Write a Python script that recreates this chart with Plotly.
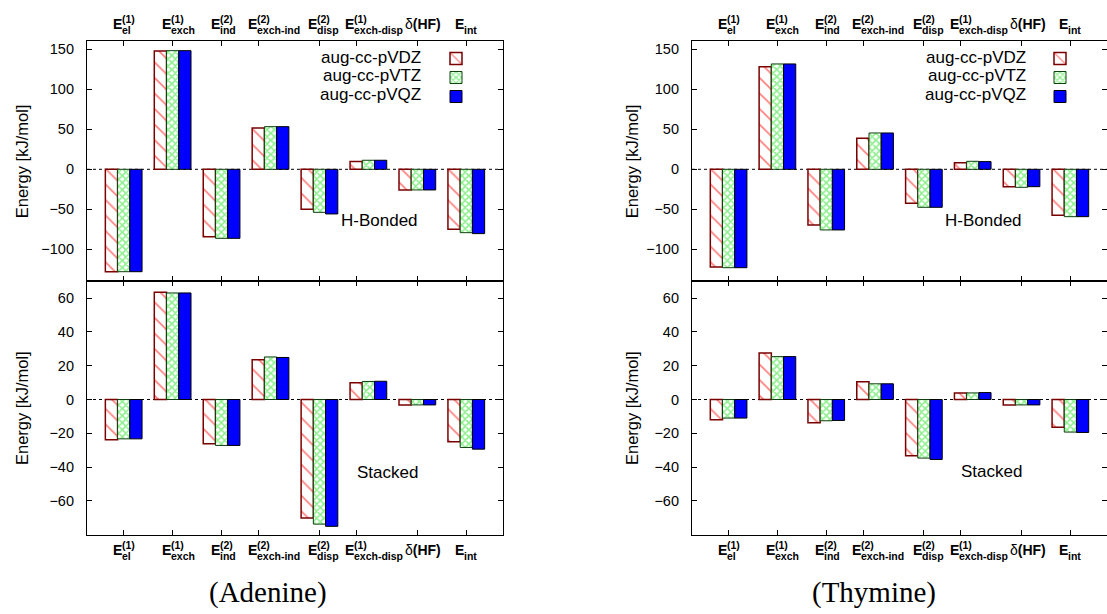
import plotly.graph_objects as go

# ---------------- data ----------------
categories = ["E_el(1)", "E_exch(1)", "E_ind(2)", "E_exch-ind(2)", "E_disp(2)",
              "E_exch-disp(1)", "delta(HF)", "E_int"]
label_main = ["E", "E", "E", "E", "E", "E", "δ(HF)", "E"]
label_sup = ["(1)", "(1)", "(2)", "(2)", "(2)", "(1)", "", ""]
label_sub = ["el", "exch", "ind", "exch-ind", "disp", "exch-disp", "", "int"]
bases = ["aug-cc-pVDZ", "aug-cc-pVTZ", "aug-cc-pVQZ"]

adenine_hb_vdz = [-128.0, 147.9, -84.2, 51.7, -50.0, 9.6, -25.8, -75.0]
adenine_hb_vtz = [-128.0, 148.3, -86.3, 53.3, -53.8, 11.3, -25.8, -79.2]
adenine_hb_vqz = [-128.0, 148.3, -86.3, 53.3, -55.8, 11.3, -25.8, -80.4]

adenine_st_vdz = [-23.9, 63.5, -26.2, 23.5, -70.2, 9.9, -3.2, -25.0]
adenine_st_vtz = [-23.3, 63.1, -27.2, 25.2, -73.8, 10.7, -3.2, -28.4]
adenine_st_vqz = [-23.3, 63.1, -27.2, 24.9, -75.1, 10.8, -3.2, -29.4]

thymine_hb_vdz = [-122.0, 128.3, -69.6, 38.8, -42.5, 8.3, -21.7, -57.5]
thymine_hb_vtz = [-123.0, 131.7, -75.8, 45.4, -47.5, 10.0, -22.5, -59.2]
thymine_hb_vqz = [-123.0, 131.7, -75.8, 45.4, -47.5, 9.6, -21.7, -59.2]

thymine_st_vdz = [-12.0, 27.6, -13.8, 10.5, -33.3, 3.9, -3.2, -16.4]
thymine_st_vtz = [-11.0, 25.4, -12.6, 9.3, -34.7, 3.9, -3.2, -19.3]
thymine_st_vqz = [-11.0, 25.4, -12.4, 9.3, -35.5, 4.1, -3.2, -19.5]

top_yticks = [-100, -50, 0, 50, 100, 150]
bottom_yticks = [-60, -40, -20, 0, 20, 40, 60]

# ---------------- layout helpers ----------------
W, H = 1107, 614
FONT = "Liberation Sans, Arial, Helvetica, sans-serif"
positions = list(range(len(categories)))
tick_offsets = [0, 0, 0, -0.245, 0, -0.245, 0, 0]
tickvals = [p + o for p, o in zip(positions, tick_offsets)]


def px_x(v):
    return v / W


def px_y(v):
    return 1 - v / H


styles = [
    dict(color="white",
         pattern=dict(shape="\\", fgcolor="#ff0000", bgcolor="white", size=11, solidity=0.15),
         line=dict(color="#7a0000", width=1.5)),
    dict(color="white",
         pattern=dict(shape="x", fgcolor="#1ee01e", bgcolor="white", size=5, solidity=0.55),
         line=dict(color="#104010", width=1)),
    dict(color="#0000ff",
         line=dict(color="#000000", width=1)),
]

panels = [
    # (xaxis id, yaxis id, series, legend, top?)
    ("x", "y", [adenine_hb_vdz, adenine_hb_vtz, adenine_hb_vqz], "legend", True),
    ("x2", "y2", [adenine_st_vdz, adenine_st_vtz, adenine_st_vqz], "legend", False),
    ("x3", "y3", [thymine_hb_vdz, thymine_hb_vtz, thymine_hb_vqz], "legend2", True),
    ("x4", "y4", [thymine_st_vdz, thymine_st_vtz, thymine_st_vqz], "legend2", False),
]

fig = go.Figure()
for xa, ya, series, lg, is_top in panels:
    for name, vals, st in zip(bases, series, styles):
        fig.add_trace(go.Bar(
            x=positions, y=vals, name=" ", hovertext=name, xaxis=xa, yaxis=ya,
            marker=st, legend=lg, showlegend=is_top, legendgroup=lg + name,
        ))

xdom_left = [px_x(87), px_x(503)]
xdom_right = [px_x(692), 1.0]
ydom_top = [px_y(281.3), px_y(41.3)]
ydom_bot = [px_y(534.6), px_y(281.3)]

axis_common = dict(showline=True, linecolor="black", linewidth=1.2, mirror="ticks",
                   ticks="inside", ticklen=5, tickcolor="black", tickwidth=1,
                   showgrid=False, zeroline=False, automargin=False)

xcommon = dict(axis_common, range=[-0.75, 7.75], tickvals=tickvals, showticklabels=False)
ycommon = dict(axis_common, tickfont=dict(size=14.5, color="black", family=FONT),
               ticklabelstandoff=9)

legend_common = dict(yanchor="top", xanchor="left", font=dict(size=9, family=FONT),
                     bgcolor="rgba(0,0,0,0)", tracegroupgap=0, itemwidth=30,
                     borderwidth=0)

layout = dict(
    width=W, height=H, margin=dict(l=0, r=0, t=0, b=0),
    paper_bgcolor="white", plot_bgcolor="white",
    font=dict(family=FONT, color="black"),
    barmode="group", bargap=0.25, bargroupgap=0,
    xaxis=dict(xcommon, domain=xdom_left, anchor="y"),
    yaxis=dict(ycommon, domain=ydom_top, anchor="x", range=[-140, 160], tickvals=top_yticks),
    xaxis2=dict(xcommon, domain=xdom_left, anchor="y2"),
    yaxis2=dict(ycommon, domain=ydom_bot, anchor="x2", range=[-80, 70], tickvals=bottom_yticks),
    xaxis3=dict(xcommon, domain=xdom_right, anchor="y3"),
    yaxis3=dict(ycommon, domain=ydom_top, anchor="x3", range=[-140, 160], tickvals=top_yticks),
    xaxis4=dict(xcommon, domain=xdom_right, anchor="y4"),
    yaxis4=dict(ycommon, domain=ydom_bot, anchor="x4", range=[-80, 70], tickvals=bottom_yticks),
    legend=dict(legend_common, x=px_x(436), y=px_y(44)),
    legend2=dict(legend_common, x=px_x(1040), y=px_y(44)),
)
fig.update_layout(**layout)

shapes = []
annotations = []
for xa, ya, series, lg, is_top in panels:
    shapes.append(dict(type="line", xref=xa + " domain", x0=0, x1=1, yref=ya, y0=0, y1=0,
                       line=dict(color="black", width=1, dash="dot"), layer="below"))
    e_y, sup_y, sub_y = (24, 19, 29.5) if is_top else (550, 545, 555.5)
    for tv, m, sp, sb in zip(tickvals, label_main, label_sup, label_sub):
        if m != "E":
            annotations.append(dict(x=tv, xref=xa, y=px_y(e_y), yref="paper",
                                    text="δ<b>(HF)</b>", showarrow=False,
                                    xanchor="center", yanchor="middle", xshift=6,
                                    font=dict(size=14, family=FONT)))
            continue
        annotations.append(dict(x=tv, xref=xa, y=px_y(e_y), yref="paper",
                                text="<b>E</b>", showarrow=False, xanchor="left",
                                yanchor="middle", xshift=-12, borderpad=0,
                                font=dict(size=14, family=FONT)))
        if sp:
            annotations.append(dict(x=tv, xref=xa, y=px_y(sup_y), yref="paper",
                                    text="<b>" + sp + "</b>", showarrow=False, xanchor="left",
                                    yanchor="middle", xshift=-3, borderpad=0,
                                    font=dict(size=10.5, family=FONT)))
        if sb:
            annotations.append(dict(x=tv, xref=xa, y=px_y(sub_y), yref="paper",
                                    text="<b>" + sb + "</b>", showarrow=False, xanchor="left",
                                    yanchor="middle", xshift=-3, borderpad=0,
                                    font=dict(size=10.5, family=FONT)))

# legend texts (right-aligned, left of the swatches)
for x_right in (423, 1028):
    for name, yc in zip(bases, (57, 75.5, 94)):
        annotations.append(dict(x=px_x(x_right), y=px_y(yc), xref="paper", yref="paper",
                                text=name, showarrow=False, xanchor="right",
                                yanchor="middle", font=dict(size=17, family=FONT)))

# panel labels
annotations += [
    dict(x=5.23, xref="x", y=-64.6, yref="y", text="H-Bonded", showarrow=False,
         font=dict(size=17, family=FONT)),
    dict(x=5.39, xref="x2", y=-43.2, yref="y2", text="Stacked", showarrow=False,
         font=dict(size=17, family=FONT)),
    dict(x=5.23, xref="x3", y=-64.6, yref="y3", text="H-Bonded", showarrow=False,
         font=dict(size=17, family=FONT)),
    dict(x=5.38, xref="x4", y=-42.6, yref="y4", text="Stacked", showarrow=False,
         font=dict(size=17, family=FONT)),
]
# y titles
for xc, yc in [(22, 161.3), (22, 408), (632, 161.3), (632, 408)]:
    annotations.append(dict(x=px_x(xc), y=px_y(yc), xref="paper", yref="paper",
                            text="Energy [kJ/mol]", textangle=-90, showarrow=False,
                            xanchor="center", yanchor="middle",
                            font=dict(size=16.5, family=FONT)))
# molecule titles
annotations += [
    dict(x=px_x(268), y=px_y(592), xref="paper", yref="paper", text="(Adenine)",
         showarrow=False, xanchor="center", yanchor="middle",
         font=dict(size=29, family="Liberation Serif, Times New Roman, serif")),
    dict(x=px_x(874), y=px_y(592), xref="paper", yref="paper", text="(Thymine)",
         showarrow=False, xanchor="center", yanchor="middle",
         font=dict(size=29, family="Liberation Serif, Times New Roman, serif")),
]

fig.update_layout(shapes=shapes, annotations=annotations)
fig.write_html("out.html")
